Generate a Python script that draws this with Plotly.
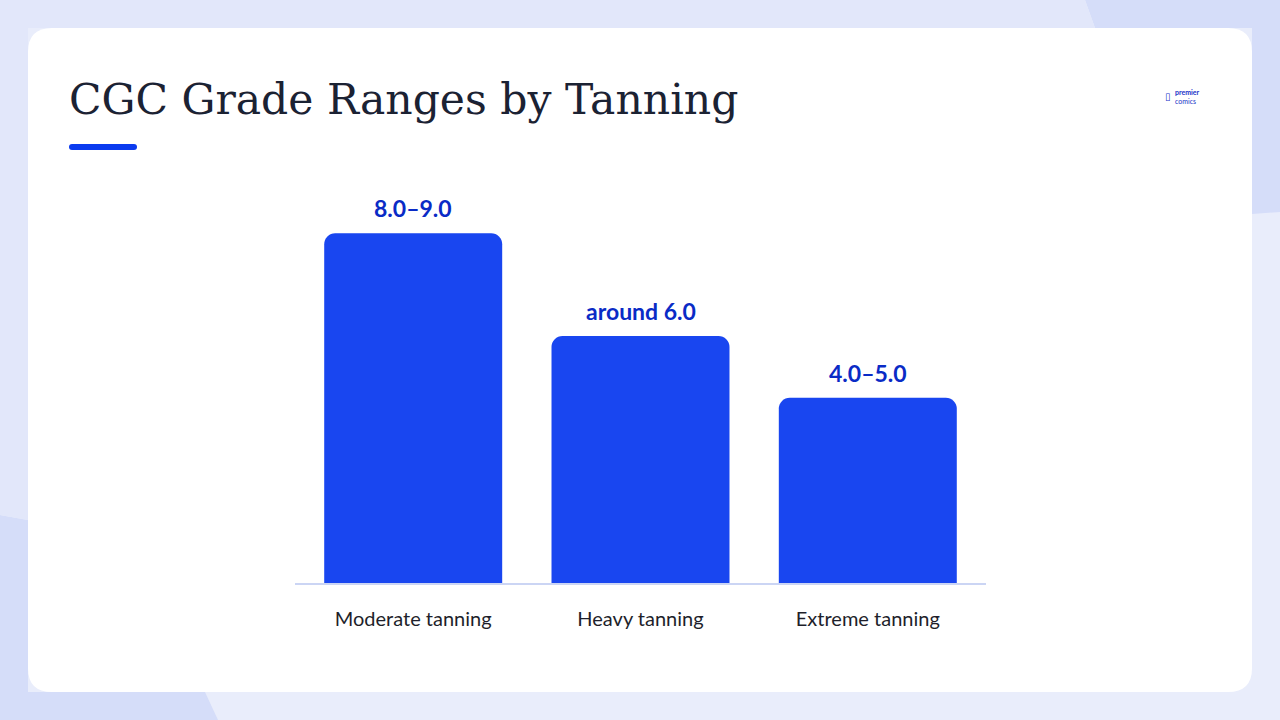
import plotly.graph_objects as go

categories = ["Moderate tanning", "Heavy tanning", "Extreme tanning"]
grade_mid = [8.5, 6.0, 4.5]
grade_labels = ["8.0–9.0", "around 6.0", "4.0–5.0"]
title_text = "CGC Grade Ranges by Tanning"

W, H = 1280, 720
L, R, T, B = 295, 294, 192, 137
PW, PH = W - L - R, H - T - B


def px(x):
    return (x - L) / PW


def py(y):
    return (H - B - y) / PH


def rrect(x0, y0, x1, y1, r):
    pts = [
        f"M {px(x0 + r)} {py(y0)}",
        f"L {px(x1 - r)} {py(y0)}",
        f"Q {px(x1)} {py(y0)} {px(x1)} {py(y0 + r)}",
        f"L {px(x1)} {py(y1 - r)}",
        f"Q {px(x1)} {py(y1)} {px(x1 - r)} {py(y1)}",
        f"L {px(x0 + r)} {py(y1)}",
        f"Q {px(x0)} {py(y1)} {px(x0)} {py(y1 - r)}",
        f"L {px(x0)} {py(y0 + r)}",
        f"Q {px(x0)} {py(y0)} {px(x0 + r)} {py(y0)}",
        "Z",
    ]
    return " ".join(pts)


def poly(points):
    return "M " + " L ".join(f"{px(a)} {py(b)}" for a, b in points) + " Z"


fig = go.Figure()
fig.add_trace(
    go.Bar(
        x=categories,
        y=grade_mid,
        marker=dict(color="#1946F0", cornerradius=11, line=dict(width=0)),
        hoverinfo="skip",
        showlegend=False,
    )
)

shapes = [
    dict(type="path", path=poly([(1085, 0), (1280, 0), (1280, 212), (1252, 214), (1252, 28), (1095, 28)]),
         xref="paper", yref="paper", fillcolor="#D5DDF9", line=dict(width=0), layer="below"),
    dict(type="path", path=poly([(0, 515), (28, 520), (28, 692), (205, 692), (218, 720), (0, 720)]),
         xref="paper", yref="paper", fillcolor="#D5DDF9", line=dict(width=0), layer="below"),
    dict(type="path", path=poly([(0, 0), (1085, 0), (1095, 28), (28, 28), (28, 520), (0, 515)]),
         xref="paper", yref="paper", fillcolor="#E2E7FA", line=dict(width=0), layer="below"),
    dict(type="path", path=rrect(28, 28, 1252, 692, 24), xref="paper", yref="paper",
         fillcolor="#FFFFFF", line=dict(width=0), layer="below"),
    dict(type="path", path=rrect(69, 144, 137, 150, 3), xref="paper", yref="paper",
         fillcolor="#0B3BEF", line=dict(width=0), layer="below"),
]

annotations = [
    dict(text=title_text, xref="paper", yref="paper", x=px(67), y=py(100),
         xanchor="left", yanchor="middle", showarrow=False,
         font=dict(family="DejaVu Serif", size=42.5, color="#1B2233")),
    dict(text="<b>premier</b><br>comics", xref="paper", yref="paper", x=px(1173), y=py(97),
         xanchor="left", yanchor="middle", showarrow=False, align="left",
         font=dict(family="Lato", size=7, color="#2233C8")),
    dict(text="▯", xref="paper", yref="paper", x=px(1163), y=py(96),
         xanchor="left", yanchor="middle", showarrow=False,
         font=dict(family="DejaVu Sans", size=10, color="#2233C8")),
]
for c, v, lab in zip(categories, grade_mid, grade_labels):
    annotations.append(
        dict(text=f"<b>{lab}</b>", x=c, y=v, xref="x", yref="y", yanchor="bottom",
             yshift=9, showarrow=False,
             font=dict(family="Lato", size=23, color="#0A2BC6"))
    )

fig.update_layout(
    width=W, height=H,
    margin=dict(l=L, r=R, t=T, b=B, pad=0),
    paper_bgcolor="#E9EDFB",
    plot_bgcolor="rgba(0,0,0,0)",
    bargap=0.217,
    shapes=shapes,
    annotations=annotations,
    xaxis=dict(range=[-0.52, 2.52], showgrid=False, zeroline=False, showline=True,
               linecolor="#CBD5F4", linewidth=2, ticks="", ticklabelstandoff=17,
               tickfont=dict(family="Lato", size=20, color="#1E1F2B"), fixedrange=True),
    yaxis=dict(range=[0, 9.5], showgrid=False, zeroline=False, showline=False,
               showticklabels=False, fixedrange=True),
)

fig.write_html(
    "out.html",
    config={"displayModeBar": False},
    post_script="document.body.style.margin='0';document.body.style.overflow='hidden';",
)
